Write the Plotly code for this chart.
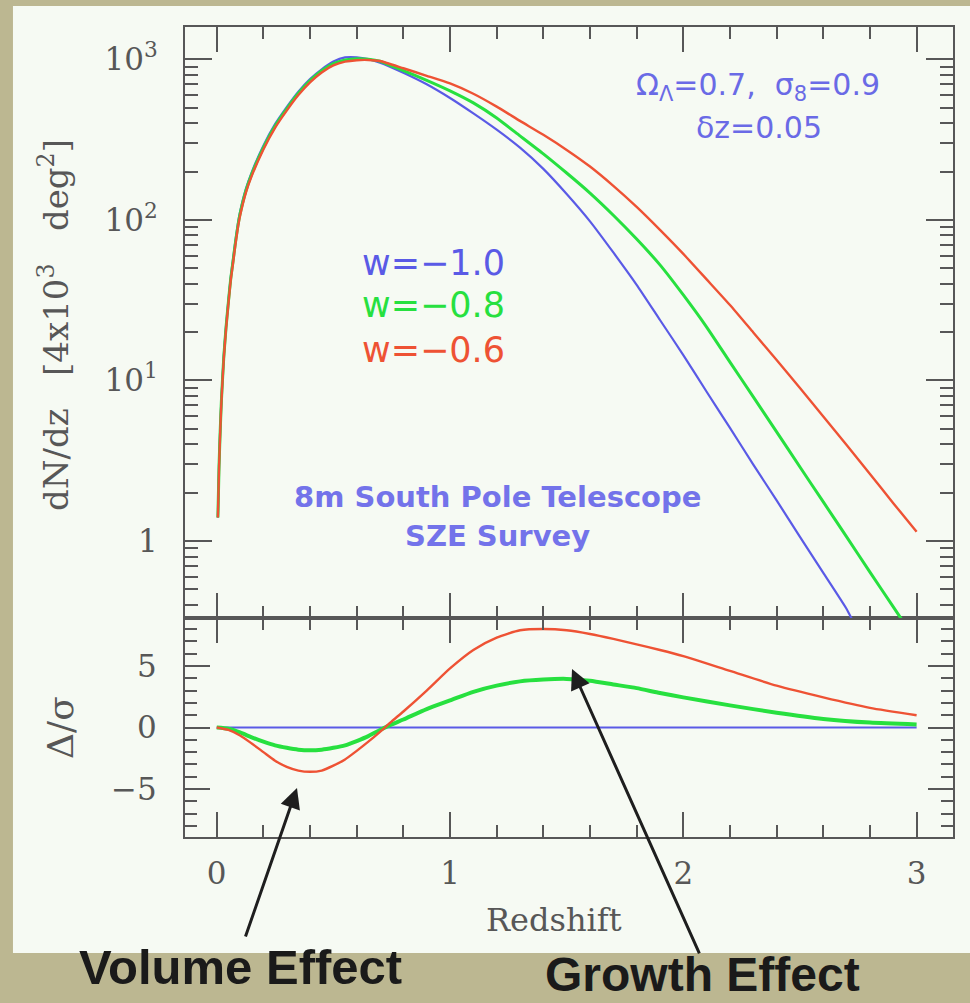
import plotly.graph_objects as go

# ---- cluster counts dN/dz for three dark-energy equations of state ----
z_common = [0.005, 0.01, 0.015, 0.02, 0.03, 0.04, 0.05, 0.06, 0.07, 0.08, 0.09,
            0.10, 0.125, 0.15, 0.20, 0.25, 0.30, 0.35, 0.40, 0.45, 0.50, 0.55,
            0.60, 0.65, 0.70, 0.80, 0.90, 1.0, 1.1, 1.2, 1.3, 1.4, 1.5, 1.6,
            1.7, 1.8, 1.9, 2.0, 2.1, 2.2, 2.3, 2.4, 2.5, 2.6, 2.7]

z_w10 = z_common + [2.73]
dndz_w10 = [1.4, 3.0, 5.0, 7.6, 14.2, 22, 31.5, 44, 57, 74, 93,
            112, 156, 198, 290, 395, 505, 630, 755, 868, 970, 1030,
            1032, 1005, 955, 826, 700, 575, 461, 365, 282, 208, 145, 98,
            62.7, 39.4, 23.8, 14.4, 8.5, 5.06, 2.99, 1.79, 1.06, 0.633, 0.377,
            0.31]

z_w08 = z_common + [2.8, 2.9, 2.94]
dndz_w08 = [1.4, 2.95, 4.9, 7.45, 13.8, 21.5, 30.8, 43, 55.5, 72, 90.5,
            109, 152, 193, 282, 385, 492, 615, 738, 850, 940, 992,
            1010, 1003, 975, 851, 741, 637, 536, 432, 334, 258, 196, 147,
            107, 76, 52.5, 34.1, 21.5, 13.0, 7.9, 4.78, 2.89, 1.75, 1.06,
            0.64, 0.388, 0.318]

z_w06 = z_common + [2.8, 2.9, 3.0]
dndz_w06 = [1.4, 2.9, 4.8, 7.3, 13.5, 21, 30, 42, 54, 70, 88,
            106, 148, 188, 275, 375, 480, 600, 720, 830, 918, 968,
            989, 992, 978, 881, 791, 708, 611, 508, 414, 339, 273, 215,
            163, 120.5, 86.7, 61.4, 42.6, 29.5, 19.9, 13.4, 8.98, 5.97, 3.96,
            2.61, 1.72, 1.14]

# ---- significance of the difference relative to w = -1 ----
z_diff = [0, 0.05, 0.1, 0.15, 0.2, 0.25, 0.3, 0.35, 0.4, 0.45, 0.5, 0.55, 0.6,
          0.65, 0.7, 0.75, 0.8, 0.9, 1.0, 1.1, 1.2, 1.3, 1.4, 1.5, 1.6, 1.7,
          1.8, 1.9, 2.0, 2.2, 2.4, 2.6, 2.8, 3.0]
sig_w10 = [0.0] * len(z_diff)
sig_w08 = [0, -0.1, -0.4, -0.8, -1.15, -1.45, -1.65, -1.8, -1.85, -1.8, -1.65,
           -1.45, -1.1, -0.7, -0.2, 0.25, 0.65, 1.5, 2.2, 2.9, 3.4, 3.75, 3.9,
           3.95, 3.8, 3.5, 3.2, 2.8, 2.45, 1.8, 1.2, 0.7, 0.4, 0.25]
sig_w06 = [0, -0.2, -0.65, -1.3, -2.0, -2.7, -3.2, -3.5, -3.6, -3.5, -3.1,
           -2.6, -1.9, -1.15, -0.35, 0.5, 1.3, 3.0, 4.8, 6.3, 7.3, 7.9, 8.0,
           7.9, 7.6, 7.2, 6.75, 6.3, 5.8, 4.6, 3.4, 2.45, 1.6, 1.0]

# ---- tick labels ----
x_tickvals = [0, 1, 2, 3]
x_ticktext = ["0", "1", "2", "3"]
log_tickvals = [1, 10, 100, 1000]
log_ticktext = ["1", "10<sup>1</sup>", "10<sup>2</sup>", "10<sup>3</sup>"]
sig_tickvals = [-5, 0, 5]
sig_ticktext = ["\u22125", "0", "5"]

labels = ["w=\u22121.0", "w=\u22120.8", "w=\u22120.6"]

BLUE = "#5a5ae6"
GREEN = "#27e03f"
RED = "#ee5234"
AX = "#575757"
PANEL = "#f6faf3"
SERIF = "DejaVu Serif"
SANS = "DejaVu Sans"

fig = go.Figure()

top_series = [(z_w10, dndz_w10, BLUE, 2.2), (z_w08, dndz_w08, GREEN, 3.0),
              (z_w06, dndz_w06, RED, 2.4)]
for (zz, vals, col, lw), name in zip(top_series, labels):
    fig.add_trace(go.Scatter(x=zz, y=vals, mode="lines", name=name,
                             line=dict(color=col, width=lw, shape="spline", smoothing=0.5),
                             xaxis="x2", yaxis="y2", showlegend=False))

bottom_series = [(sig_w10, BLUE, 2.0), (sig_w08, GREEN, 4.0), (sig_w06, RED, 2.4)]
for (vals, col, lw), name in zip(bottom_series, labels):
    fig.add_trace(go.Scatter(x=z_diff, y=vals, mode="lines", name=name,
                             line=dict(color=col, width=lw, shape="spline", smoothing=0.6),
                             xaxis="x", yaxis="y", showlegend=False))

split = 219 / 810

axis_common = dict(showline=True, linecolor=AX, linewidth=2, mirror="allticks",
                   ticks="inside", tickcolor=AX, tickwidth=2, showgrid=False,
                   zeroline=False)
tickfont = dict(family=SERIF, size=31, color=AX)

fig.update_layout(
    width=970, height=1003,
    margin=dict(l=185, r=17, t=27, b=166),
    paper_bgcolor="#bcb791",
    plot_bgcolor=PANEL,
    xaxis=dict(domain=[0, 1], anchor="y", range=[-0.136, 3.156],
               tickmode="array", tickvals=x_tickvals, ticktext=x_ticktext,
               ticklen=25, tickfont=tickfont, ticklabelstandoff=8,
               minor=dict(ticks="inside", dtick=0.2, tick0=0, ticklen=12,
                          tickcolor=AX, tickwidth=2, showgrid=False),
               **axis_common),
    xaxis2=dict(domain=[0, 1], anchor="y2", matches="x", range=[-0.136, 3.156],
                tickmode="array", tickvals=x_tickvals, showticklabels=False,
                ticklen=25,
                minor=dict(ticks="inside", dtick=0.2, tick0=0, ticklen=12,
                           tickcolor=AX, tickwidth=2, showgrid=False),
                **axis_common),
    yaxis=dict(domain=[0, split], anchor="x", range=[-8.9, 8.9],
               tickmode="array", tickvals=sig_tickvals, ticktext=sig_ticktext,
               ticklen=25, tickfont=tickfont, ticklabelstandoff=20,
               minor=dict(ticks="inside", dtick=1, tick0=0, ticklen=12,
                          tickcolor=AX, tickwidth=2, showgrid=False),
               **axis_common),
    yaxis2=dict(domain=[split, 1], anchor="x2", type="log", range=[-0.48, 3.202],
                tickmode="array", tickvals=log_tickvals, ticktext=log_ticktext,
                ticklen=27, tickfont=tickfont, ticklabelstandoff=19,
                minor=dict(ticks="inside", tickmode="array",
                           tickvals=[m * 10 ** d for d in range(-1, 4) for m in range(2, 10)],
                           ticklen=13, tickcolor=AX, tickwidth=2, showgrid=False),
                **axis_common),
)

# light slide panel behind the figure
fig.add_shape(type="rect", xref="paper", yref="paper", layer="below",
              x0=-0.224, x1=1.05, y0=-0.1432, y1=1.026,
              fillcolor=PANEL, line=dict(width=0))


def px(xp):
    return (xp - 185) / 768


def py(yp):
    return (837 - yp) / 810


nb = "\u00a0"
ann = []
# axis titles
ann.append(dict(text="Redshift", xref="paper", yref="paper", x=px(554), y=py(920),
                showarrow=False, font=dict(family=SERIF, size=32, color=AX),
                xanchor="center", yanchor="middle"))
ann.append(dict(text="dN/dz" + nb * 3 + "[4x10<sup>3</sup>" + nb * 3 + "deg<sup>2</sup>]",
                xref="paper", yref="paper", x=px(54), y=py(325), textangle=-90,
                showarrow=False, font=dict(family=SERIF, size=34, color=AX),
                xanchor="center", yanchor="middle"))
ann.append(dict(text="\u0394/\u03c3", xref="paper", yref="paper", x=px(60), y=py(728),
                textangle=-90, showarrow=False,
                font=dict(family=SERIF, size=36, color=AX),
                xanchor="center", yanchor="middle"))

# model labels
for txt, col, ypix in zip(labels, [BLUE, GREEN, RED], [263, 305, 350]):
    ann.append(dict(text=txt, xref="paper", yref="paper",
                    x=px(360), y=py(ypix),
                    xanchor="left", yanchor="middle", showarrow=False,
                    font=dict(family=SANS, size=35, color=col)))

PARAM = "#6a6ae6"
ann.append(dict(text="\u03a9<sub>\u039b</sub>=0.7,  \u03c3<sub>8</sub>=0.9",
                xref="paper", yref="paper", x=px(758), y=py(86),
                xanchor="center", yanchor="middle", showarrow=False,
                font=dict(family=SANS, size=30, color=PARAM)))
ann.append(dict(text="\u03b4z=0.05",
                xref="paper", yref="paper", x=px(759), y=py(128),
                xanchor="center", yanchor="middle", showarrow=False,
                font=dict(family=SANS, size=30, color=PARAM)))

SURVEY = "#7373ea"
ann.append(dict(text="<b>8m South Pole Telescope</b>",
                xref="paper", yref="paper", x=px(497), y=py(497),
                xanchor="center", yanchor="middle", showarrow=False,
                font=dict(family=SANS, size=29, color=SURVEY)))
ann.append(dict(text="<b>SZE Survey</b>",
                xref="paper", yref="paper", x=px(497), y=py(536),
                xanchor="center", yanchor="middle", showarrow=False,
                font=dict(family=SANS, size=29, color=SURVEY)))

# effect arrows
ann.append(dict(text="", x=0.344, y=-4.92, xref="x", yref="y", ax=-52, ay=150,
                showarrow=True, arrowhead=2, arrowsize=1.35, arrowwidth=3,
                arrowcolor="#1e1e1e", standoff=0))
ann.append(dict(text="", x=1.523, y=4.76, xref="x", yref="y", ax=128, ay=286,
                showarrow=True, arrowhead=2, arrowsize=1.35, arrowwidth=3,
                arrowcolor="#1e1e1e", standoff=0))

ann.append(dict(text="<b>Volume Effect</b>", xref="paper", yref="paper",
                x=px(240), y=py(967), xanchor="center",
                yanchor="middle", showarrow=False,
                font=dict(family="Liberation Sans", size=49, color="#1a1a1a")))
ann.append(dict(text="<b>Growth Effect</b>", xref="paper", yref="paper",
                x=px(702), y=py(1003), xanchor="center",
                yanchor="bottom", showarrow=False,
                font=dict(family="Liberation Sans", size=48, color="#1a1a1a")))

fig.update_layout(annotations=ann)

fig.write_html("out.html")
